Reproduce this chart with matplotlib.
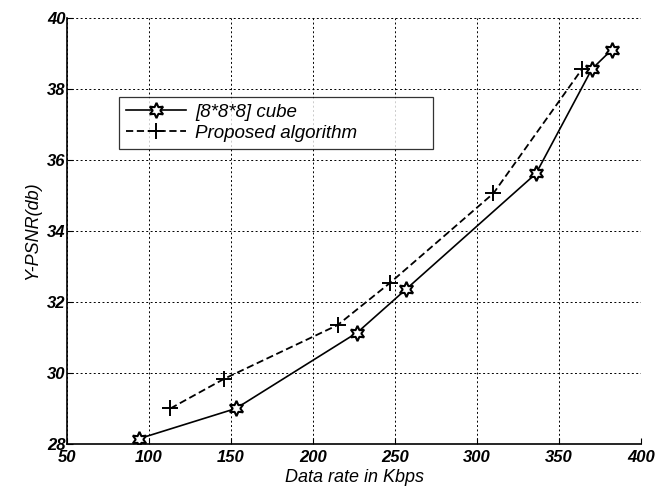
import numpy as np
import matplotlib
matplotlib.use("Agg")
import matplotlib.pyplot as plt

cubeRate = [94, 153, 227, 257, 336, 370, 382]
cubePsnr = [28.15, 29.0, 31.14, 32.37, 35.62, 38.56, 39.1]
propRate = [113, 146, 215, 247, 310, 364]
propPsnr = [29.0, 29.84, 31.35, 32.54, 35.06, 38.56]
xTicks = [50, 100, 150, 200, 250, 300, 350, 400]
yTicks = [28, 30, 32, 34, 36, 38, 40]

plt.rcParams['font.family'] = ['Liberation Sans', 'DejaVu Sans']

fig = plt.figure(figsize=(6.66, 4.9), dpi=100)
ax = fig.add_axes([0.1006, 0.0939, 0.8619, 0.8694])

ax.plot(cubeRate, cubePsnr, color="black", linewidth=1.2, linestyle="-",
        marker=(6, 1, 0), markersize=11, markerfacecolor="white",
        markeredgecolor="black", markeredgewidth=1.5, label="[8*8*8] cube")
ax.plot(propRate, propPsnr, color="black", linewidth=1.3, linestyle=(0, (4, 2)),
        marker="+", markersize=11, markeredgewidth=1.4, label="Proposed algorithm")

ax.set_xlim(50, 400)
ax.set_ylim(28, 40)
ax.set_xticks(xTicks)
ax.set_yticks(yTicks)
ax.tick_params(direction="in", length=4, labelsize=12)
ax.tick_params(axis="x", pad=4)
ax.tick_params(axis="y", pad=1)
for lab in ax.get_xticklabels() + ax.get_yticklabels():
    lab.set_fontstyle("italic")
    lab.set_fontweight("bold")
ax.grid(True, color="black", linestyle=(0, (2, 2.5)), linewidth=0.7)
ax.spines["top"].set_visible(False)
ax.spines["right"].set_visible(False)
ax.spines["left"].set_linewidth(1.2)
ax.spines["bottom"].set_linewidth(1.2)

ax.set_xlabel("Data rate in Kbps", fontsize=13, fontstyle="italic", labelpad=3)
ax.set_ylabel("Y-PSNR(db)", fontsize=13, fontstyle="italic", labelpad=4)

leg = ax.legend(loc="upper left", bbox_to_anchor=(0.09, 0.70, 0.548, 0.115),
                mode="expand", borderaxespad=0, fontsize=13.5,
                frameon=True, fancybox=False, edgecolor="black",
                handlelength=3.2, borderpad=0.38, labelspacing=0.2,
                handletextpad=0.5)
leg.get_frame().set_linewidth(0.9)
for t in leg.get_texts():
    t.set_fontstyle("italic")

fig.savefig("out.png", dpi=100)
